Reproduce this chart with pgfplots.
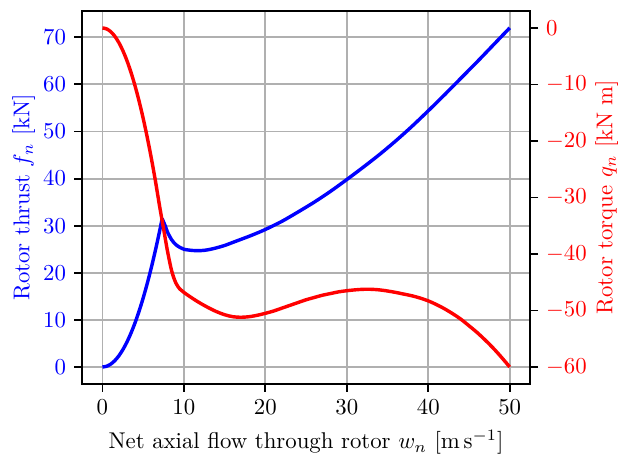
\documentclass[border=0pt]{standalone}
\usepackage{pgfplots}
\pgfplotsset{compat=1.18}
\definecolor{gridgray}{RGB}{176,176,176}

\pgfplotsset{
  common/.style={
    scale only axis, width=196.5pt, height=163.6pt,
    xmin=-2.5, xmax=52.5,
    tick align=outside,
    major tick length=3.5pt,
    every tick/.style={black, line width=0.8pt},
    axis line style={line width=0.8pt},
    tick label style={font=\normalsize},
  }
}

\begin{document}
\begin{tikzpicture}
% thrust, left axis
\begin{axis}[
  common,
  ymin=-3.6, ymax=75.6,
  xtick={0,10,...,50}, ytick={0,10,...,70},
  xtick pos=lower, ytick pos=left,
  grid=major, major grid style={gridgray, line width=0.8pt},
  yticklabel style={blue},
  xlabel={Net axial flow through rotor $w_n$ $[\mathrm{m\,s^{-1}}]$},
  every axis x label/.style={at={(axis description cs:0.5,0)}, anchor=center, yshift=-25.6pt},
  ylabel={Rotor thrust $f_n$ $[\mathrm{kN}]$},
  every axis y label/.style={at={(axis description cs:0,0.5)}, xshift=-25.6pt, rotate=90, anchor=center, blue},
]
\coordinate (sw) at (rel axis cs:0,0);
\coordinate (ne) at (rel axis cs:1,1);
\addplot[blue, line width=1.5pt, smooth] coordinates {
  (0,0) (0.5,0.15) (1,0.59) (1.5,1.32) (2,2.34) (2.5,3.66) (3,5.27)
  (3.5,7.18) (4,9.38) (4.5,11.87) (5,14.65) (5.5,17.73) (6,21.1)
  (6.5,24.76) (7,28.7) (7.33,31.5)
};
\addplot[blue, line width=1.5pt, smooth] coordinates {
  (7.33,31.5) (7.7,30.0) (8,28.6) (8.5,27.0)
  (9,26.0) (9.5,25.4) (10,25.0) (11,24.75) (12,24.7) (13,24.9)
  (14,25.3) (15,25.8) (16,26.45) (17,27.1) (18,27.75) (19,28.45)
  (20,29.2) (22,30.9) (24,32.9) (26,35.0) (28,37.3) (30,39.8)
  (32,42.4) (34,45.1) (36,48.0) (38,51.1) (40,54.4) (42,57.8)
  (44,61.3) (46,64.8) (48,68.4) (50,72.0)
};
\end{axis}
% torque, right axis
\begin{axis}[
  common,
  ymin=-63, ymax=3,
  ytick={-60,-50,...,0},
  axis x line=none,
  axis y line*=right,
  ytick pos=right,
  yticklabel style={red},
  ylabel={Rotor torque $q_n$ $[\mathrm{kN\;m}]$},
  every axis y label/.style={at={(axis description cs:1,0.5)}, xshift=33.6pt, rotate=90, anchor=center, red},
]
\addplot[red, line width=1.5pt, smooth] coordinates {
  (0,0) (0.5,-0.16) (1,-0.64) (1.5,-1.44) (2,-2.56) (2.5,-4.0)
  (3,-5.76) (3.5,-7.84) (4,-10.24) (4.5,-12.96) (5,-16.0) (5.5,-19.36)
  (6,-23.04) (6.5,-27.04) (7,-31.4) (7.5,-35.5) (8,-39.6) (8.5,-43.0)
  (9,-45.1) (9.5,-46.2) (10,-46.8) (11,-47.8) (12,-48.7) (13,-49.5)
  (14,-50.2) (15,-50.75) (16,-51.1) (17,-51.2) (18,-51.1) (19,-50.85)
  (20,-50.5) (21,-50.1) (22,-49.6) (23,-49.1) (24,-48.6) (25,-48.1)
  (26,-47.7) (27,-47.3) (28,-47.0) (29,-46.7) (30,-46.5) (31,-46.35)
  (32,-46.25) (33,-46.25) (34,-46.35) (35,-46.55) (36,-46.8) (37,-47.1)
  (38,-47.4) (39,-47.8) (40,-48.3) (41,-48.95) (42,-49.7) (43,-50.57)
  (44,-51.54) (45,-52.7) (46,-53.9) (47,-55.25) (48,-56.7) (49,-58.3)
  (50,-60.0)
};
\end{axis}
\pgfresetboundingbox
\path[use as bounding box] ([shift={(-36pt,-30.7pt)}]sw) rectangle ([shift={(39pt,4.8pt)}]ne);
\end{tikzpicture}
\end{document}
